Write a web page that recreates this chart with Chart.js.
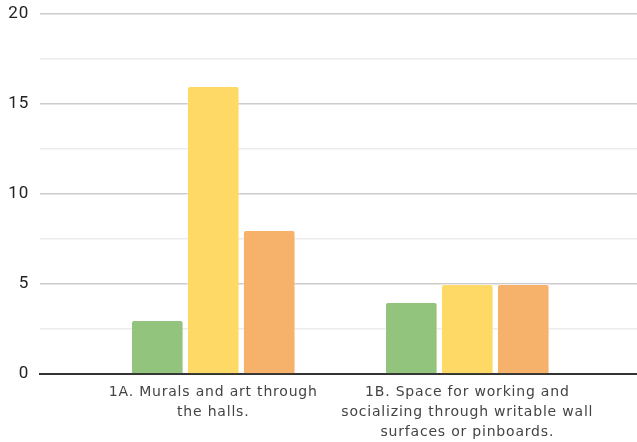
<!DOCTYPE html>
<html>
<head>
<meta charset="utf-8">
<script src="https://cdn.jsdelivr.net/npm/chart.js@4.4.1/dist/chart.umd.min.js"></script>
<style>
  html, body { margin: 0; padding: 0; background: #fff; }
  #wrap { width: 637px; height: 442px; }
</style>
</head>
<body>
<div id="wrap"><canvas id="myChart"></canvas></div>
<script>
// categories (multi-line labels as drawn)
const categories = [
    ['1A. Murals and art through', 'the halls.'],
    ['1B. Space for working and', 'socializing through writable wall', 'surfaces or pinboards.']
];
const greenValues = [3, 4];
const yellowValues = [16, 5];
const orangeValues = [8, 5];
const yTicks = [0, 5, 10, 15, 20];

// bars sit on a linear x axis so the groups can be placed like the original
const toPoints = (values) => values.map((v, i) => ({ x: i, y: v }));

const makeSet = (label, values, color) => ({
    label: label,
    data: toPoints(values),
    backgroundColor: color,
    borderColor: 'rgba(255,255,255,0.35)',
    borderWidth: 1,
    borderRadius: { topLeft: 3, topRight: 3 },
    borderSkipped: 'bottom',
    categoryPercentage: 0.661,
    barPercentage: 0.94
});

// wider letter spacing for the category labels (geometric sans look)
const spacingPlugin = {
    id: 'spacing',
    beforeDraw: (chart) => { chart.ctx.letterSpacing = '0.8px'; }
};

const ctx = document.getElementById('myChart').getContext('2d');
const myChart = new Chart(ctx, {
    type: 'bar',
    data: {
        datasets: [
            makeSet('Green', greenValues, '#93c47d'),
            makeSet('Yellow', yellowValues, '#ffd966'),
            makeSet('Orange', orangeValues, '#f6b26b')
        ]
    },
    plugins: [spacingPlugin],
    options: {
        responsive: true,
        maintainAspectRatio: false,
        animation: false,
        layout: { padding: 0 },
        plugins: {
            legend: { display: false },
            tooltip: { enabled: false }
        },
        scales: {
            x: {
                type: 'linear',
                offset: false,
                min: -0.682,
                max: 1.668,
                afterBuildTicks: (scale) => {
                    scale.ticks = categories.map((c, i) => ({ value: i }));
                },
                afterFit: (scale) => { scale.height = 68; },
                grid: { display: false, offset: false },
                border: { display: true, color: '#333333', width: 2 },
                ticks: {
                    autoSkip: false,
                    maxRotation: 0,
                    padding: 0,
                    color: '#444444',
                    font: { family: 'DejaVu Sans', size: 14, lineHeight: 1.43 },
                    callback: (value) => categories[value] || ''
                }
            },
            y: {
                min: 0,
                max: 20,
                afterFit: (scale) => {
                    scale.width = 40;
                    scale.paddingTop = 14;
                },
                border: { display: false },
                grid: {
                    drawTicks: false,
                    color: (c) => (c.tick && c.tick.value % 5 === 0) ? '#cccccc' : '#ebebeb',
                    lineWidth: 1.5
                },
                ticks: {
                    stepSize: 2.5,
                    padding: 11,
                    color: '#222222',
                    font: { family: 'Roboto', size: 17 },
                    callback: (value) => yTicks.includes(value) ? value : ''
                }
            }
        }
    }
});
</script>
</body>
</html>
